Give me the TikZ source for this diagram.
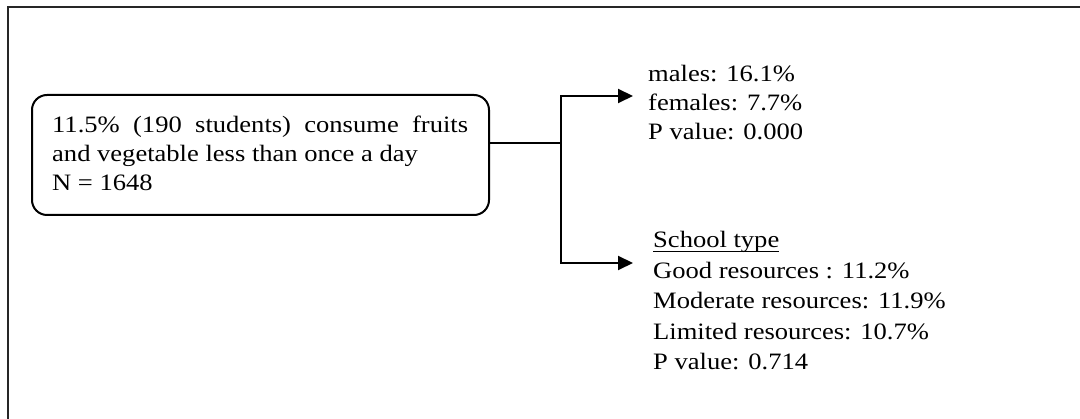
\documentclass[tikz,border=0pt]{standalone}
\usepackage{fontspec}
\setmainfont{Liberation Serif}[FakeStretch=1.13]
\usetikzlibrary{arrows.meta}
\newcommand{\myul}[1]{\leavevmode\setbox0=\hbox{#1}\rlap{\rule[-4.5pt]{\wd0}{1.4pt}}\box0}
\begin{document}
\begin{tikzpicture}[x=1pt,y=-1pt,
  txt/.style={anchor=base west, inner sep=0pt, font=\fontsize{23.5}{28}\selectfont},
  conn/.style={line width=2pt},
  arr/.style={conn, -{Triangle[length=15pt,width=14pt]}},
  frame/.style={line width=2.5pt, black!85}]
\useasboundingbox (0,0) rectangle (1080,419);
% outer frame (top and left edges)
\coordinate (fa) at (1082,7);
\coordinate (fb) at (8,7);
\coordinate (fc) at (8,421);
\draw[frame] (fa) -- (fb) -- (fc);
% main rounded box
\node[draw, line width=2pt, rounded corners=15pt, minimum width=457pt, minimum height=120pt, inner sep=0pt] (box) at (260.5,155) {};
\node[txt] (l1) at (52,133) {\makebox[416pt][s]{11.5\% (190 students) consume fruits}};
\node[txt] (l2) at (52,162) {and vegetable less than once a day};
\node[txt] (l3) at (52,191) {N = 1648};
% junction and arrow targets
\coordinate (j) at (561,143);
\coordinate (t1) at (633,96);
\coordinate (t2) at (633,263);
\draw[conn] (box.east |- j) -- (j);
\draw[arr] (j) |- (t1);
\draw[arr] (j) |- (t2);
% upper block
\node[txt] (m1) at (648,82) {males: 16.1\%};
\node[txt] (m2) at (648,111) {females: 7.7\%};
\node[txt] (m3) at (648,140) {P value: 0.000};
% lower block
\node[txt] (s0) at (653,248) {\myul{School type}};
\node[txt] (s1) at (653,279) {Good resources : 11.2\%};
\node[txt] (s2) at (653,309) {Moderate resources: 11.9\%};
\node[txt] (s3) at (653,340) {Limited resources: 10.7\%};
\node[txt] (s4) at (653,370) {P value: 0.714};
\end{tikzpicture}
\end{document}
